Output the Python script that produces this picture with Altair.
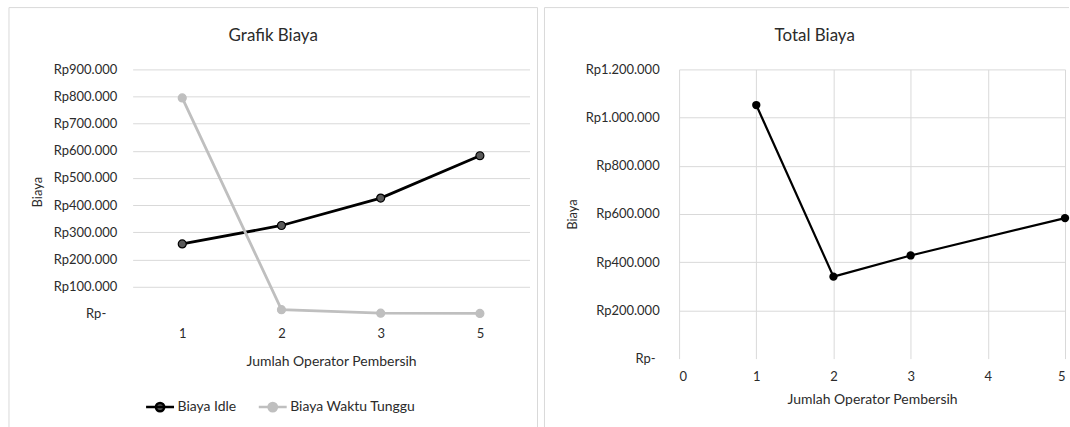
import altair as alt
import pandas as pd

# ---- data ----
operators = ["1", "2", "3", "5"]
biaya_idle = [257000, 325000, 426000, 582000]
biaya_tunggu = [795000, 15000, 2000, 1000]
series_names = ["Biaya Idle", "Biaya Waktu Tunggu"]

total_x = [1, 2, 3, 5]
total_biaya = [1052000, 340000, 428000, 583000]

left_ticks = [0, 100000, 200000, 300000, 400000, 500000, 600000, 700000, 800000, 900000]
right_ticks = [0, 200000, 400000, 600000, 800000, 1000000, 1200000]
right_xticks = [0, 1, 2, 3, 4, 5]

FONT = "Lato"
TXT = "#2b2b2b"
GRID = "#D9D9D9"

rows = []
for s, vals in zip(series_names, [biaya_idle, biaya_tunggu]):
    for o, v in zip(operators, vals):
        rows.append({"series": s, "operator": o, "value": v})
left_df = pd.DataFrame(rows)
total_df = pd.DataFrame({"operator": total_x, "total": total_biaya})
one = pd.DataFrame({"k": [0]})


RP_EXPR = (
    "datum.value == 0 ? 'Rp-' : 'Rp' + (datum.value >= 1000000 ? "
    "floor(datum.value/1000000) + '.' + format((datum.value % 1000000)/1000, '03d') : "
    "format(datum.value/1000, 'd')) + '.000'"
)

grid_cond = {"condition": {"test": "datum.value === 0", "value": "transparent"}, "value": GRID}

LW, LH = 398, 245
RW, RH = 387, 290

# ---------------- left chart ----------------
x_left = alt.X(
    "operator:O",
    scale=alt.Scale(type="point", padding=0.5),
    axis=alt.Axis(
        title="Jumlah Operator Pembersih", labelAngle=0, ticks=False, domain=False, grid=False,
        labelPadding=14, titlePadding=14, labelFontSize=13, titleFontSize=14,
        labelFont=FONT, titleFont=FONT, labelColor=TXT, titleColor=TXT, titleFontWeight="normal",
    ),
)
y_left = alt.Y(
    "value:Q",
    scale=alt.Scale(domain=[0, 900000], nice=False),
    axis=alt.Axis(
        title="Biaya", values=left_ticks, labelExpr=RP_EXPR,
        ticks=False, domain=False, gridColor=grid_cond,
        labelPadding={"condition": {"test": "datum.value === 0", "value": 27}, "value": 16},
        titlePadding=9,
        labelFontSize=13, titleFontSize=13, labelFont=FONT, titleFont=FONT,
        labelColor=TXT, titleColor=TXT, titleFontWeight="normal",
    ),
)

legend = alt.Legend(
    title=None, orient="none", legendX=12, legendY=323, direction="horizontal",
    symbolType="M-1,0L1,0M-0.3,0A0.3,0.3 0 1,0 0.3,0A0.3,0.3 0 1,0 -0.3,0Z",
    symbolSize=784, symbolStrokeWidth=2.5, labelFont=FONT, labelFontSize=14,
    labelColor=TXT, labelOffset=2, columnPadding=17, labelLimit=300,
)

stroke_enc = alt.Stroke(
    "series:N", scale=alt.Scale(domain=series_names, range=["#000000", "#BFBFBF"]), legend=legend
)
fill_enc = alt.Fill(
    "series:N", scale=alt.Scale(domain=series_names, range=["#595959", "#BFBFBF"]), legend=legend
)

base_left = alt.Chart(left_df).encode(x=x_left, y=y_left)
lines_left = base_left.mark_line(strokeWidth=2.8).encode(stroke=stroke_enc)
points_left = base_left.mark_circle(size=64, opacity=1, strokeWidth=1.2).encode(
    stroke=stroke_enc, fill=fill_enc
)

left_title = alt.Chart(one).mark_text(
    font=FONT, fontSize=17, color=TXT, align="center", baseline="middle"
).encode(x=alt.value(141), y=alt.value(-33), text=alt.value("Grafik Biaya"))

bl_top = alt.Chart(one).mark_rule(color=GRID, strokeWidth=1).encode(
    x=alt.value(-124), x2=alt.value(406), y=alt.value(-62))
bl_left = alt.Chart(one).mark_rule(color=GRID, strokeWidth=1).encode(
    x=alt.value(-124), y=alt.value(-62), y2=alt.value(359))
bl_right = alt.Chart(one).mark_rule(color=GRID, strokeWidth=1).encode(
    x=alt.value(406), y=alt.value(-62), y2=alt.value(359))

left = alt.layer(bl_top, bl_left, bl_right, left_title, lines_left, points_left).properties(
    width=LW, height=LH
)

# ---------------- right chart ----------------
x_right = alt.X(
    "operator:Q",
    scale=alt.Scale(domain=[0, 5], nice=False),
    axis=alt.Axis(
        title="Jumlah Operator Pembersih", values=right_xticks, format="d", ticks=False,
        domain=False, gridColor=GRID, labelPadding=12, titlePadding=9,
        labelFontSize=13, titleFontSize=14, labelFont=FONT, titleFont=FONT,
        labelColor=TXT, titleColor=TXT, titleFontWeight="normal",
    ),
)
y_right = alt.Y(
    "total:Q",
    scale=alt.Scale(domain=[0, 1200000], nice=False),
    axis=alt.Axis(
        title="Biaya", values=right_ticks, labelExpr=RP_EXPR,
        ticks=False, domain=False, gridColor=grid_cond,
        labelPadding={"condition": {"test": "datum.value === 0", "value": 24}, "value": 20},
        titlePadding=6,
        labelFontSize=13, titleFontSize=13, labelFont=FONT, titleFont=FONT,
        labelColor=TXT, titleColor=TXT, titleFontWeight="normal",
    ),
)
base_right = alt.Chart(total_df).encode(x=x_right, y=y_right)
lines_right = base_right.mark_line(color="#000000", strokeWidth=2.2)
points_right = base_right.mark_circle(size=70, color="#000000", opacity=1)

right_title = alt.Chart(one).mark_text(
    font=FONT, fontSize=17, color=TXT, align="center", baseline="middle"
).encode(x=alt.value(136), y=alt.value(-33), text=alt.value("Total Biaya"))

br_top = alt.Chart(one).mark_rule(color=GRID, strokeWidth=1).encode(
    x=alt.value(-135), x2=alt.value(391), y=alt.value(-62))
br_left = alt.Chart(one).mark_rule(color=GRID, strokeWidth=1).encode(
    x=alt.value(-135), y=alt.value(-62), y2=alt.value(359))

right = alt.layer(br_top, br_left, right_title, lines_right, points_right).properties(
    width=RW, height=RH
)

chart = (
    alt.hconcat(left, right, spacing=5)
    .resolve_scale(stroke="independent", fill="independent")
    .properties(padding={"left": 8, "top": 6, "right": 0, "bottom": 0}, background="white")
    .configure_view(stroke=None)
)

chart.save("out.html", embed_options={"renderer": "svg", "actions": False})
